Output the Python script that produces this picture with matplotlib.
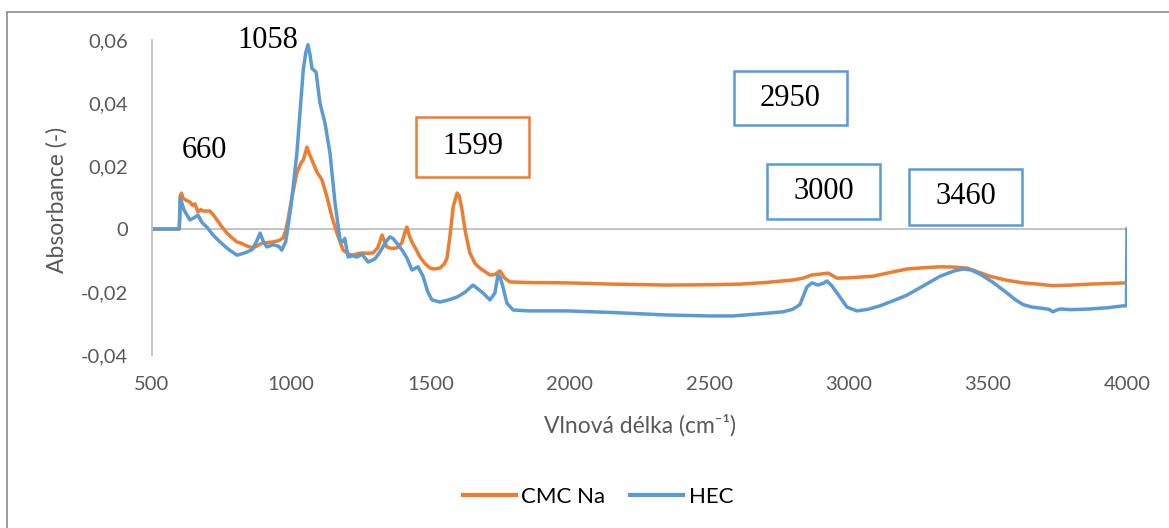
import matplotlib
matplotlib.use("Agg")
import matplotlib.pyplot as plt
from matplotlib.lines import Line2D
from matplotlib.patches import Rectangle
from matplotlib.ticker import FuncFormatter

# --- data ---
cmc_x = [500, 598, 601, 606, 611, 625, 636, 645, 654, 665, 675, 683, 708, 720, 733, 750,
         769, 790, 805, 820, 841, 863, 880, 898, 915, 934, 955, 970, 980, 988, 1000, 1020,
         1035, 1043, 1050, 1056, 1062, 1074, 1092, 1110, 1128, 1146, 1164, 1186, 1205, 1222,
         1240, 1257, 1275, 1293, 1310, 1326, 1335, 1343, 1360, 1379, 1397, 1408, 1415, 1423,
         1433, 1445, 1462, 1480, 1498, 1515, 1534, 1550, 1559, 1570, 1581, 1595, 1603, 1613,
         1625, 1641, 1660, 1677, 1695, 1713, 1730, 1749, 1765, 1785, 1850, 1990, 2150, 2349,
         2500, 2611, 2700, 2800, 2837, 2869, 2900, 2927, 2959, 3000, 3088, 3150, 3210, 3270,
         3329, 3380, 3426, 3470, 3508, 3570, 3627, 3680, 3734, 3800, 3867, 3930, 3998]
cmc_y = [0, 0, 0.0105, 0.0114, 0.0098, 0.009, 0.0086, 0.0075, 0.008, 0.0054, 0.0062, 0.0057,
         0.0057, 0.0045, 0.0029, 0.0008, -0.0013, -0.003, -0.0041, -0.0045, -0.0054, -0.006,
         -0.0052, -0.0044, -0.0043, -0.0041, -0.0037, -0.0029, -0.0005, 0.0029, 0.009, 0.0178,
         0.021, 0.0219, 0.024, 0.026, 0.0245, 0.0219, 0.0181, 0.0156, 0.0102, 0.0038, -0.0013,
         -0.0067, -0.008, -0.0083, -0.0078, -0.0076, -0.0077, -0.0076, -0.006, -0.0019, -0.004,
         -0.0057, -0.0062, -0.006, -0.0044, -0.001, 0.0006, -0.002, -0.0041, -0.006, -0.0089,
         -0.011, -0.0124, -0.0127, -0.0124, -0.011, -0.0092, -0.002, 0.007, 0.0114, 0.0105,
         0.006, -0.001, -0.0076, -0.011, -0.0124, -0.0135, -0.0146, -0.0145, -0.0133, -0.0155,
         -0.0168, -0.017, -0.0171, -0.0175, -0.0178, -0.0177, -0.0175, -0.017, -0.0162, -0.0156,
         -0.0146, -0.0143, -0.014, -0.0156, -0.0155, -0.015, -0.0138, -0.0127, -0.0123, -0.012,
         -0.0121, -0.0124, -0.0138, -0.015, -0.0163, -0.0171, -0.0175, -0.018, -0.0178, -0.0175,
         -0.0173, -0.0171]

hec_x = [500, 598, 602, 615, 636, 650, 665, 680, 697, 720, 744, 775, 805, 825, 841, 860, 875,
         888, 900, 912, 935, 955, 966, 980, 988, 1000, 1020, 1043, 1052, 1060, 1068, 1074, 1089,
         1103, 1121, 1139, 1157, 1175, 1186, 1192, 1204, 1220, 1236, 1254, 1276, 1300, 1318,
         1340, 1354, 1365, 1379, 1400, 1415, 1433, 1445, 1455, 1473, 1490, 1505, 1534, 1565,
         1595, 1625, 1652, 1670, 1688, 1713, 1731, 1742, 1750, 1756, 1774, 1796, 1850, 1990,
         2150, 2349, 2500, 2586, 2700, 2765, 2800, 2826, 2851, 2869, 2891, 2910, 2923, 2940,
         2959, 2995, 3031, 3070, 3113, 3160, 3210, 3270, 3329, 3380, 3411, 3440, 3472, 3520,
         3569, 3600, 3627, 3660, 3688, 3720, 3734, 3745, 3760, 3800, 3867, 3930, 3986, 3998,
         4000]
hec_y = [0, 0, 0.0098, 0.006, 0.0029, 0.0035, 0.0044, 0.002, 0.0006, -0.002, -0.0041, -0.0065,
         -0.0083, -0.0078, -0.0073, -0.0065, -0.004, -0.0013, -0.004, -0.0057, -0.005, -0.0055,
         -0.0067, -0.004, 0.0006, 0.008, 0.024, 0.0505, 0.056, 0.0585, 0.055, 0.051, 0.0498,
         0.040, 0.0336, 0.024, 0.0083, -0.0035, -0.004, -0.003, -0.0089, -0.0085, -0.0089,
         -0.008, -0.0105, -0.0095, -0.0073, -0.004, -0.0025, -0.003, -0.0045, -0.007, -0.0092,
         -0.013, -0.0125, -0.012, -0.015, -0.02, -0.0225, -0.0232, -0.0225, -0.0216, -0.02,
         -0.0178, -0.019, -0.0203, -0.0225, -0.0203, -0.0146, -0.0155, -0.0171, -0.0235,
         -0.0257, -0.026, -0.026, -0.0265, -0.0273, -0.0276, -0.0276, -0.0268, -0.0263, -0.0255,
         -0.024, -0.0184, -0.0171, -0.0178, -0.0172, -0.0165, -0.018, -0.0203, -0.0248, -0.026,
         -0.0255, -0.0244, -0.0228, -0.021, -0.018, -0.015, -0.0133, -0.0127, -0.013, -0.0143,
         -0.017, -0.0203, -0.0225, -0.024, -0.0248, -0.0251, -0.0255, -0.0263, -0.0258, -0.0254,
         -0.0256, -0.0254, -0.025, -0.0244, -0.0244, 0.0]

x_ticks = [500, 1000, 1500, 2000, 2500, 3000, 3500, 4000]
y_ticks = [-0.04, -0.02, 0, 0.02, 0.04, 0.06]

series_names = ["CMC Na", "HEC"]
ORANGE = "#ED7D31"
BLUE = "#5B9BD5"
GRAY_TXT = "#595959"
AXIS_GRAY = "#BFBFBF"

# peak labels: text, box (left, top, width, height) in pixels, box colour (None = no box)
peak_labels = [
    ("660", (178, 134, 52, 32), None),
    ("1058", (236, 25, 64, 32), None),
    ("1599", (416, 117, 113, 60), ORANGE),
    ("2950", (734, 71, 113, 54), BLUE),
    ("3000", (767, 164, 113, 55), BLUE),
    ("3460", (909, 169, 113, 56), BLUE),
]

W, H = 1169, 528
plt.rcParams["font.family"] = ["Lato", "DejaVu Sans"]

fig = plt.figure(figsize=(W / 100, H / 100), dpi=100, facecolor="white")


def fx(px):
    return px / W


def fy(py):
    return 1 - py / H


ax = fig.add_axes([fx(152), fy(355), fx(1127) - fx(152), fy(40) - fy(355)])
ax.set_facecolor("white")

ax.plot(cmc_x, cmc_y, color=ORANGE, linewidth=2.5, label=series_names[0],
        solid_joinstyle="round")
ax.plot(hec_x, hec_y, color=BLUE, linewidth=2.5, label=series_names[1],
        solid_joinstyle="round")

ax.set_xlim(500, 4000)
ax.set_ylim(-0.04, 0.06)
ax.set_xticks(x_ticks)
ax.set_yticks(y_ticks)
ax.yaxis.set_major_formatter(
    FuncFormatter(lambda v, _: "0" if abs(v) < 1e-9 else f"{v:.2f}".replace(".", ",")))
ax.tick_params(length=0, labelsize=14.5, colors=GRAY_TXT)
ax.tick_params(axis="x", pad=15)
ax.tick_params(axis="y", pad=17)

for s in ["top", "right", "bottom"]:
    ax.spines[s].set_visible(False)
ax.spines["left"].set_color(AXIS_GRAY)
ax.spines["left"].set_linewidth(1.3)
ax.axhline(0, color=AXIS_GRAY, linewidth=1.3, zorder=0.5)

fig.text(fx(640), fy(425), "Vlnová délka (cm\u207b\u00b9)", ha="center", va="center",
         fontsize=16.5, color=GRAY_TXT)
fig.text(fx(57), fy(200), "Absorbance (-)", ha="center", va="center", rotation=90,
         fontsize=16.5, color=GRAY_TXT)

# --- peak labels ---
for txt, (x0, y0, w, h), col in peak_labels:
    if col is not None:
        fig.add_artist(Rectangle((fx(x0), fy(y0 + h)), w / W, h / H, transform=fig.transFigure,
                                 facecolor="white", edgecolor=col, linewidth=1.8, zorder=5))
    fig.text(fx(x0 + w / 2), fy(y0 + h / 2), txt, ha="center", va="center",
             fontsize=22, family="Liberation Serif", color="black", zorder=6)

# --- legend ---
handles = [Line2D([0], [0], color=ORANGE, linewidth=3),
           Line2D([0], [0], color=BLUE, linewidth=3)]
fig.legend(handles, series_names, loc="center", bbox_to_anchor=(fx(598), fy(497)), ncol=2,
           frameon=False, fontsize=16, handlelength=2.4, handletextpad=0.25, columnspacing=1.1)

# --- chart area border (top and left visible in the crop) ---
fig.add_artist(Line2D([fx(7), 1], [fy(12), fy(12)], color="#8C8C8C", linewidth=1.2,
                      transform=fig.transFigure))
fig.add_artist(Line2D([fx(7), fx(7)], [fy(12), 0], color="#8C8C8C", linewidth=1.2,
                      transform=fig.transFigure))

fig.savefig("out.png", dpi=100, facecolor="white")
plt.close(fig)
